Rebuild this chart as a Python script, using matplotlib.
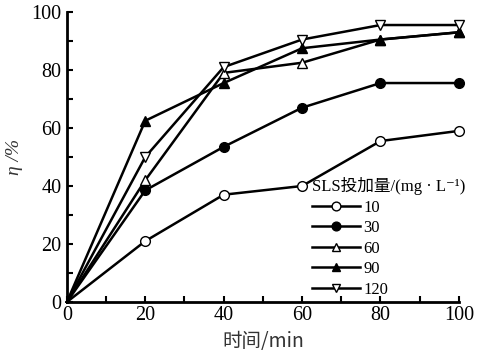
import matplotlib
matplotlib.use("Agg")
import matplotlib.pyplot as plt
from matplotlib.ticker import MultipleLocator

time_min = [0, 20, 40, 60, 80, 100]
dose_labels = ["10", "30", "60", "90", "120"]
eta_10 = [0, 21, 37, 40, 55.5, 59]
eta_30 = [0, 38.5, 53.5, 67, 75.5, 75.5]
eta_60 = [0, 42, 79, 82.5, 90.5, 93]
eta_90 = [0, 62.5, 75.5, 87.5, 90.5, 93]
eta_120 = [0, 50, 81, 90.5, 95.5, 95.5]

series = [eta_10, eta_30, eta_60, eta_90, eta_120]
markers = ["o", "o", "^", "^", "v"]
faces = ["white", "black", "white", "black", "white"]

serif = ["Liberation Serif", "Noto Sans CJK SC", "DejaVu Sans"]
cjk = ["Noto Sans CJK SC", "Liberation Serif", "DejaVu Sans"]
plt.rcParams["font.family"] = serif

fig = plt.figure(figsize=(4.81, 3.63), dpi=100)
ax = fig.add_axes([0.139, 0.168, 0.815, 0.799])

for ys, m, fc, lab in zip(series, markers, faces, dose_labels):
    ax.plot(time_min, ys, color="black", lw=1.8, marker=m, markersize=7,
            markevery=list(range(1, len(time_min))),
            markerfacecolor=fc, markeredgecolor="black", markeredgewidth=1.0,
            label=lab, clip_on=False, zorder=3)

ax.set_xlim(0, 100)
ax.set_ylim(0, 100)
ax.xaxis.set_major_locator(MultipleLocator(20))
ax.xaxis.set_minor_locator(MultipleLocator(10))
ax.yaxis.set_major_locator(MultipleLocator(20))
ax.yaxis.set_minor_locator(MultipleLocator(10))
ax.spines["top"].set_visible(False)
ax.spines["right"].set_visible(False)
for s in ("left", "bottom"):
    ax.spines[s].set_linewidth(2.0)
ax.tick_params(which="both", direction="in", width=1.5, labelsize=14.5)
ax.tick_params(which="major", length=4)
ax.tick_params(which="minor", length=4)
ax.tick_params(axis="y", pad=4)
ax.tick_params(axis="x", pad=3)

ax.set_xlabel("时间/min", fontsize=14, family=cjk, color="#333333", labelpad=4)
ax.set_ylabel("η /%", fontsize=14, color="#333333", labelpad=6, style="italic")

leg = ax.legend(loc="upper left", bbox_to_anchor=(0.625, 0.43), frameon=False,
                title="SLS投加量/(mg · L⁻¹)", fontsize=12,
                handlelength=2.9, handletextpad=0.2, labelspacing=0.27,
                borderpad=0.0, borderaxespad=0.0, markerscale=0.9)
leg.get_title().set_fontsize(12)
leg.get_title().set_family(serif)
leg._legend_box.align = "left"

fig.savefig("out.png", dpi=100)
